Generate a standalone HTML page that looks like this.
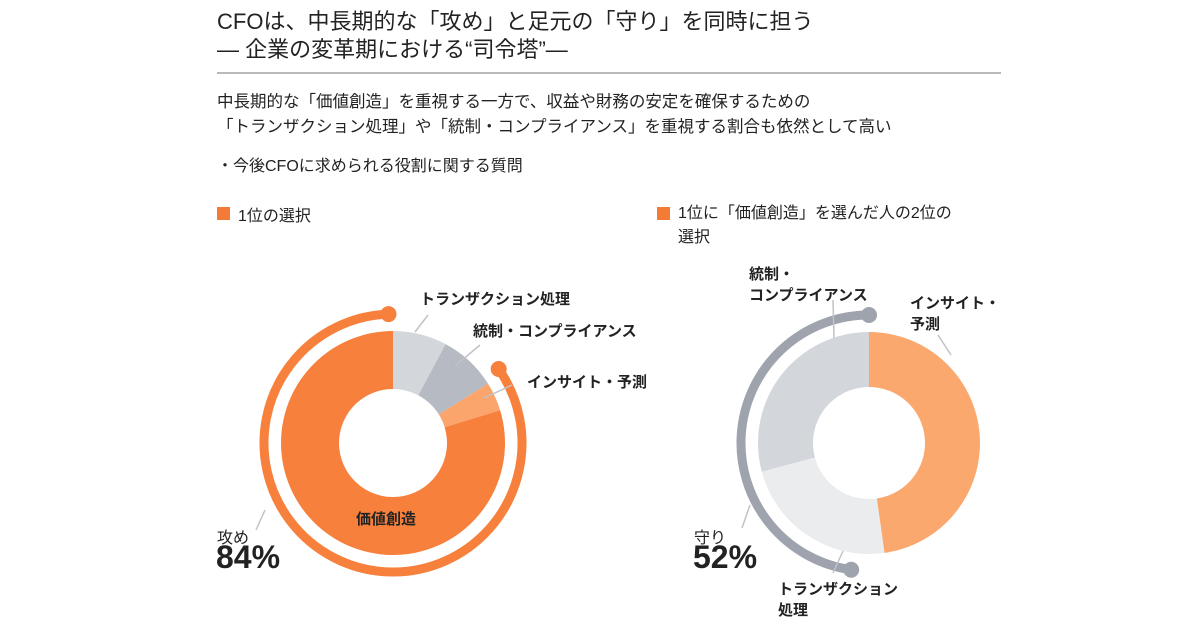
<!DOCTYPE html>
<html><head><meta charset="utf-8"><style>
body{margin:0;width:1200px;height:630px;background:#fff;font-family:"Liberation Sans","Noto Sans CJK JP",sans-serif;color:#222;position:relative;overflow:hidden}
.t{position:absolute;white-space:nowrap}
svg{position:absolute;left:0;top:0}
</style></head><body>
<div class="t" style="left:217px;top:8px;font-size:22px;line-height:28px;color:#222">CFOは、中長期的な「攻め」と足元の「守り」を同時に担う<br>― 企業の変革期における“司令塔”―</div>
<div style="position:absolute;left:217px;top:72px;width:784px;height:2px;background:#b9b9b9"></div>
<div class="t" style="left:217px;top:90px;font-size:16.5px;line-height:25px">中長期的な「価値創造」を重視する一方で、収益や財務の安定を確保するための<br>「トランザクション処理」や「統制・コンプライアンス」を重視する割合も依然として高い</div>
<div class="t" style="left:217px;top:152px;font-size:16px">・今後CFOに求められる役割に関する質問</div>
<div style="position:absolute;left:217px;top:207px;width:13px;height:13px;background:#f47b36"></div>
<div class="t" style="left:238px;top:202px;font-size:16px">1位の選択</div>
<div style="position:absolute;left:657px;top:207px;width:13px;height:13px;background:#f47b36"></div>
<div class="t" style="left:678px;top:202px;font-size:16px;line-height:24px">1位に「価値創造」を選んだ人の2位の<br>選択</div>
<svg id="s" width="1200" height="630"></svg>
<div class="t" style="left:420px;top:288px;font-size:15px;font-weight:bold">トランザクション処理</div>
<div class="t" style="left:473px;top:320px;font-size:15px;font-weight:bold">統制・コンプライアンス</div>
<div class="t" style="left:527px;top:371px;font-size:15px;font-weight:bold">インサイト・予測</div>
<div class="t" style="left:356px;top:508px;font-size:15px;font-weight:bold">価値創造</div>
<div class="t" style="left:217px;top:524px;font-size:16px">攻め</div>
<div class="t" style="left:216px;top:539px;font-size:32px;font-weight:bold">84%</div>
<div class="t" style="left:749px;top:264px;font-size:15px;font-weight:bold;line-height:21px">統制・<br>コンプライアンス</div>
<div class="t" style="left:910px;top:293px;font-size:15px;font-weight:bold;line-height:21px">インサイト・<br>予測</div>
<div class="t" style="left:694px;top:524px;font-size:16px">守り</div>
<div class="t" style="left:693px;top:539px;font-size:32px;font-weight:bold">52%</div>
<div class="t" style="left:778px;top:579px;font-size:15px;font-weight:bold;line-height:21px">トランザクション<br>処理</div>
<script>
var s=document.getElementById('s'),h='';
function p(cx,cy,r,a){a=(a-90)*Math.PI/180;return [cx+r*Math.cos(a),cy+r*Math.sin(a)];}
function seg(cx,cy,R,r,a0,a1,c){var l=(a1-a0)>180?1:0,A=p(cx,cy,R,a0),B=p(cx,cy,R,a1),C=p(cx,cy,r,a1),D=p(cx,cy,r,a0);
h+='<path d="M'+A+' A'+R+','+R+' 0 '+l+' 1 '+B+' L'+C+' A'+r+','+r+' 0 '+l+' 0 '+D+'Z" fill="'+c+'"/>';}
function arc(cx,cy,r,a0,a1,c){var l=(a1-a0)>180?1:0,A=p(cx,cy,r,a0),B=p(cx,cy,r,a1);
h+='<path d="M'+A+' A'+r+','+r+' 0 '+l+' 1 '+B+'" fill="none" stroke="'+c+'" stroke-width="9"/>';
h+='<circle cx="'+A[0]+'" cy="'+A[1]+'" r="8" fill="'+c+'"/><circle cx="'+B[0]+'" cy="'+B[1]+'" r="8" fill="'+c+'"/>';}
function ln(x1,y1,x2,y2){h+='<line x1="'+x1+'" y1="'+y1+'" x2="'+x2+'" y2="'+y2+'" stroke="#bfc3c8" stroke-width="1.5"/>';}
seg(393,443,112,54,0,28,'#d3d6db');seg(393,443,112,54,28,58,'#b6bbc3');seg(393,443,112,54,58,73,'#fba46b');seg(393,443,112,54,73,360,'#f7803d');
arc(393,443,129,55,358,'#f7803d');
ln(415,332,428,315);ln(455,366,480,345);ln(484,398,512,385);ln(265,510,256,530);
seg(869,443,111,56,0,172,'#fba86f');seg(869,443,111,56,172,255,'#ebecee');seg(869,443,111,56,255,360,'#d3d6db');
arc(869,443,128,188,360,'#9ea3ad');
ln(833,300,834,338);ln(938,335,951,355);ln(750,505,742,528);ln(843,551,833,573);
s.innerHTML=h;
</script>
</body></html>
